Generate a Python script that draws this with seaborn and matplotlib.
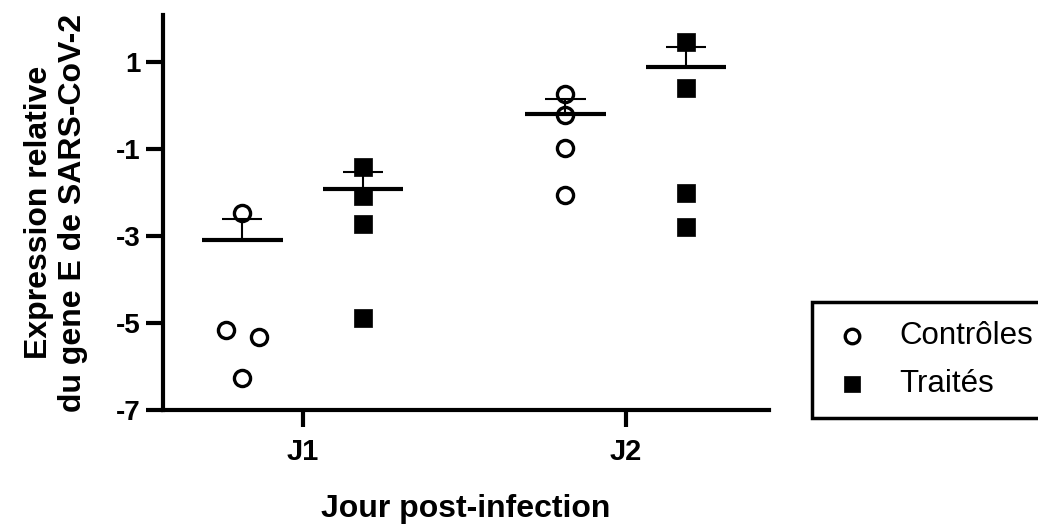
import numpy as np
import pandas as pd
import seaborn as sns
import matplotlib.pyplot as plt


"""
1. Data read from the figure
"""
days = ['J1', 'J2']
groups = ['Contrôles', 'Traités']

controles_j1 = [-2.47, -5.16, -5.32, -6.26]
controles_j2 = [0.26, -0.22, -0.98, -2.06]
traites_j1 = [-1.41, -2.08, -2.72, -4.89]
traites_j2 = [1.46, 0.40, -2.01, -2.79]

# centre line and upper error bar (one sided)
moyenne_controles = [-3.09, -0.20]
moyenne_traites = [-1.92, 0.89]
erreur_controles = [0.48, 0.35]
erreur_traites = [0.39, 0.45]


"""
2. Build a long table
"""
# horizontal position of each group around the day tick
offset = {'Contrôles': -0.187, 'Traités': 0.187}
# small spread so overlapping points stay visible
spread = {('Contrôles', 'J1'): [0, -0.05, 0.05, 0]}

values = {('Contrôles', 'J1'): controles_j1, ('Contrôles', 'J2'): controles_j2,
          ('Traités', 'J1'): traites_j1, ('Traités', 'J2'): traites_j2}

rows = []
for (grp, day), vals in values.items():
    sp = spread.get((grp, day), [0] * len(vals))
    for v, s in zip(vals, sp):
        rows.append({'groupe': grp, 'jour': day, 'valeur': v,
                     'x': days.index(day) + offset[grp] + s})
df = pd.DataFrame(rows)

summary = pd.DataFrame({
    'groupe': ['Contrôles'] * 2 + ['Traités'] * 2,
    'jour': days * 2,
    'moyenne': moyenne_controles + moyenne_traites,
    'erreur': erreur_controles + erreur_traites})
summary['x'] = [days.index(d) + offset[g] for g, d in zip(summary['groupe'], summary['jour'])]


"""
3. Plot
"""
sns.set_style('ticks')
plt.rcParams['font.family'] = ['Liberation Sans', 'DejaVu Sans']
plt.rcParams['axes.unicode_minus'] = False
plt.rcParams['text.color'] = 'black'
plt.rcParams['axes.labelcolor'] = 'black'

W, H = 1038, 529
fig = plt.figure(figsize=(W / 100, H / 100), dpi=100)
ax = fig.add_axes([163 / W, 1 - 410 / H, (769 - 163) / W, (410 - 15) / H])

sns.scatterplot(data=df[df['groupe'] == 'Contrôles'], x='x', y='valeur',
                marker='o', s=135, facecolor='white', edgecolor='black',
                linewidth=2.4, label='Contrôles', ax=ax, zorder=2)
sns.scatterplot(data=df[df['groupe'] == 'Traités'], x='x', y='valeur',
                marker='s', s=150, facecolor='black', edgecolor='black',
                linewidth=0.5, label='Traités', ax=ax, zorder=2)

# mean line + upper error bar
half = 0.124
cap = 0.062
ax.hlines(summary['moyenne'], summary['x'] - half, summary['x'] + half,
          color='black', lw=3, zorder=3)
top = summary['moyenne'] + summary['erreur']
ax.vlines(summary['x'], summary['moyenne'], top, color='black', lw=1.5, zorder=3)
ax.hlines(top, summary['x'] - cap, summary['x'] + cap, color='black', lw=1.5, zorder=3)

ax.set_xlim(-0.433, 1.443)
ax.set_ylim(-7, 2.08)
ax.set_xticks([0, 1], days)
ax.set_yticks([1, -1, -3, -5, -7])

for side in ['top', 'right']:
    ax.spines[side].set_visible(False)
for side in ['left', 'bottom']:
    ax.spines[side].set_linewidth(3)
    ax.spines[side].set_color('black')

ax.tick_params(axis='both', direction='out', length=12, width=3, color='black',
               labelcolor='black')
ax.tick_params(axis='y', pad=4, labelsize=20)
ax.tick_params(axis='x', pad=8, labelsize=21)
for lab in ax.get_xticklabels() + ax.get_yticklabels():
    lab.set_fontweight('bold')

ax.set_xlabel('Jour post-infection', fontsize=23, fontweight='bold', labelpad=20)
ax.set_ylabel('Expression relative\ndu gene E de SARS-CoV-2', fontsize=23,
              fontweight='bold', labelpad=20, linespacing=1.2)

handles, labels = ax.get_legend_handles_labels()
if ax.get_legend() is not None:
    ax.get_legend().remove()
leg = fig.legend(handles, labels, loc='upper left',
                 bbox_to_anchor=(812 / W, 1 - 302 / H, 0.25, 0), mode='expand',
                 frameon=True, fancybox=False, framealpha=1, edgecolor='black',
                 borderaxespad=0, fontsize=22.5, markerscale=0.9, handlelength=1.35,
                 handletextpad=0.84, borderpad=0.6, labelspacing=0.6)
leg.get_frame().set_linewidth(2.5)

plt.savefig('out.png', dpi=100)
